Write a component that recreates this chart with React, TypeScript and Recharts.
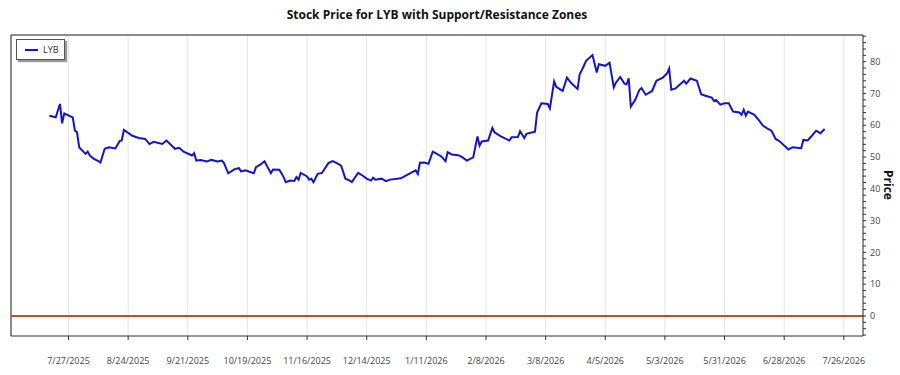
import { LineChart, Line, XAxis, YAxis, CartesianGrid, ReferenceLine } from 'recharts'

const dates = [
  '2025-07-18', '2025-07-21', '2025-07-23', '2025-07-24', '2025-07-25', '2025-07-29', '2025-07-30', '2025-07-31',
  '2025-08-01', '2025-08-04', '2025-08-05', '2025-08-06', '2025-08-07', '2025-08-08', '2025-08-10', '2025-08-11',
  '2025-08-13', '2025-08-15', '2025-08-18', '2025-08-20', '2025-08-21', '2025-08-22', '2025-08-26', '2025-08-29',
  '2025-09-01', '2025-09-03', '2025-09-05', '2025-09-09', '2025-09-11', '2025-09-15', '2025-09-17', '2025-09-19',
  '2025-09-23', '2025-09-24', '2025-09-25', '2025-09-27', '2025-09-30', '2025-10-02', '2025-10-05', '2025-10-07',
  '2025-10-08', '2025-10-10', '2025-10-13', '2025-10-15', '2025-10-16', '2025-10-18', '2025-10-22', '2025-10-23',
  '2025-10-25', '2025-10-27', '2025-10-30', '2025-10-31', '2025-11-03', '2025-11-05', '2025-11-06', '2025-11-08',
  '2025-11-10', '2025-11-11', '2025-11-12', '2025-11-13', '2025-11-16', '2025-11-17', '2025-11-18', '2025-11-19',
  '2025-11-21', '2025-11-23', '2025-11-26', '2025-11-28', '2025-11-30', '2025-12-02', '2025-12-04', '2025-12-06',
  '2025-12-07', '2025-12-10', '2025-12-12', '2025-12-14', '2025-12-16', '2025-12-17', '2025-12-18', '2025-12-21',
  '2025-12-23', '2025-12-25', '2025-12-30', '2026-01-02', '2026-01-06', '2026-01-07', '2026-01-08', '2026-01-10',
  '2026-01-12', '2026-01-14', '2026-01-16', '2026-01-18', '2026-01-20', '2026-01-21', '2026-01-23', '2026-01-26',
  '2026-01-28', '2026-01-30', '2026-02-02', '2026-02-04', '2026-02-05', '2026-02-06', '2026-02-09', '2026-02-11',
  '2026-02-12', '2026-02-15', '2026-02-19', '2026-02-20', '2026-02-23', '2026-02-24', '2026-02-26', '2026-02-27',
  '2026-03-03', '2026-03-04', '2026-03-06', '2026-03-09', '2026-03-10', '2026-03-12', '2026-03-13', '2026-03-16',
  '2026-03-18', '2026-03-20', '2026-03-23', '2026-03-24', '2026-03-25', '2026-03-27', '2026-03-30', '2026-04-01',
  '2026-04-02', '2026-04-05', '2026-04-07', '2026-04-09', '2026-04-10', '2026-04-12', '2026-04-14', '2026-04-15',
  '2026-04-16', '2026-04-17', '2026-04-19', '2026-04-21', '2026-04-22', '2026-04-24', '2026-04-27', '2026-04-29',
  '2026-05-02', '2026-05-04', '2026-05-05', '2026-05-06', '2026-05-08', '2026-05-12', '2026-05-13', '2026-05-15',
  '2026-05-18', '2026-05-20', '2026-05-22', '2026-05-25', '2026-05-26', '2026-05-27', '2026-05-29', '2026-05-31',
  '2026-06-02', '2026-06-04', '2026-06-07', '2026-06-08', '2026-06-09', '2026-06-10', '2026-06-11', '2026-06-14',
  '2026-06-16', '2026-06-18', '2026-06-20', '2026-06-22', '2026-06-24', '2026-06-26', '2026-06-28', '2026-06-30',
  '2026-07-02', '2026-07-06', '2026-07-07', '2026-07-09', '2026-07-11', '2026-07-13', '2026-07-15', '2026-07-17',
]

const prices = [
  63.0, 62.5, 66.7, 60.6, 63.7, 62.5, 58.3, 57.8,
  53.1, 51.0, 51.7, 50.5, 49.9, 49.4, 48.7, 48.3,
  52.6, 53.1, 52.7, 55.0, 55.2, 58.5, 56.7, 56.0,
  55.7, 54.1, 54.8, 54.1, 55.2, 52.6, 52.9, 51.7,
  50.5, 51.2, 48.9, 49.1, 48.6, 49.1, 48.6, 48.9,
  48.1, 44.9, 46.2, 46.5, 45.5, 45.8, 44.9, 46.8,
  47.6, 48.7, 44.9, 46.1, 46.0, 43.7, 42.1, 42.6,
  42.5, 43.7, 42.9, 45.0, 43.9, 42.9, 43.2, 42.1,
  44.7, 45.0, 48.1, 48.7, 48.1, 47.3, 43.2, 42.6,
  42.1, 45.0, 44.2, 43.2, 42.6, 43.5, 42.9, 43.2,
  42.4, 42.9, 43.3, 44.4, 45.8, 44.7, 48.2, 48.3,
  47.9, 51.7, 51.0, 50.2, 48.7, 51.5, 50.8, 50.6,
  49.9, 48.9, 49.9, 56.5, 53.6, 54.9, 55.2, 59.2,
  57.8, 56.5, 55.2, 56.2, 56.3, 58.1, 56.0, 57.3,
  58.0, 64.0, 66.9, 66.7, 65.3, 73.8, 72.1, 70.8,
  75.0, 73.3, 71.4, 76.1, 77.3, 80.3, 82.1, 76.6,
  79.2, 78.7, 79.7, 71.9, 73.4, 75.2, 73.1, 72.9,
  74.8, 65.9, 67.9, 71.1, 71.7, 69.6, 70.8, 74.0,
  75.0, 76.3, 77.8, 71.2, 71.6, 74.0, 73.1, 74.7,
  74.0, 69.8, 69.3, 68.7, 67.7, 68.0, 66.5, 66.9,
  66.9, 64.3, 64.0, 63.3, 64.9, 63.0, 64.3, 63.3,
  61.7, 59.9, 59.0, 58.3, 55.7, 54.9, 53.6, 52.4,
  53.1, 52.8, 55.4, 55.2, 56.7, 58.3, 57.5, 58.8,
]

const xTicks = [
  '2025-07-27', '2025-08-24', '2025-09-21', '2025-10-19', '2025-11-16', '2025-12-14', '2026-01-11',
  '2026-02-08', '2026-03-08', '2026-04-05', '2026-05-03', '2026-05-31', '2026-06-28', '2026-07-26',
]

const yTicks = [
  -6, -4, -2, 0, 2, 4, 6, 8, 10, 12, 14, 16, 18, 20, 22, 24, 26, 28, 30, 32, 34, 36, 38, 40, 42, 44,
  46, 48, 50, 52, 54, 56, 58, 60, 62, 64, 66, 68, 70, 72, 74, 76, 78, 80, 82, 84, 86, 88,
]

const X_MIN = Date.parse('2025-06-30')
const X_MAX = Date.parse('2026-08-04')
const Y_MIN = -6.3
const Y_MAX = 88.4

const FONT = '"Open Sans", "Noto Sans", sans-serif'

const data = dates.map((d, i) => ({ t: Date.parse(d), price: prices[i] }))

const fmtDate = (v: number) => {
  const d = new Date(v)
  return `${d.getUTCMonth() + 1}/${d.getUTCDate()}/${d.getUTCFullYear()}`
}

// only every 5th minor tick gets a label
const YTick = (props: any) => {
  const { x, y, payload } = props
  if (payload.value % 10 !== 0) return <g />
  return (
    <text x={x} y={y} dy="0.355em" textAnchor="start" fontSize={9} fill="#444" fontFamily={FONT}>
      {payload.value}
    </text>
  )
}

export default function App() {
  return (
    <div style={{ position: 'absolute', left: 0, top: 0, width: 900, height: 375, background: '#fff', fontFamily: FONT }}>
      <div style={{ position: 'absolute', left: 0, width: 874, top: 6, textAlign: 'center', fontSize: 12, fontWeight: 700, color: '#111' }}>
        Stock Price for LYB with Support/Resistance Zones
      </div>
      <LineChart width={900} height={375} data={data} margin={{ top: 35, right: 0, bottom: 0, left: 11 }}>
        <CartesianGrid horizontal={false} stroke="#e4e4e4" />
        <XAxis
          dataKey="t"
          type="number"
          domain={[X_MIN, X_MAX]}
          allowDataOverflow
          ticks={xTicks.map(d => Date.parse(d))}
          interval={0}
          tickFormatter={fmtDate}
          height={39}
          tickSize={4}
          tickMargin={18}
          stroke="#333"
          tick={{ fontSize: 9, fill: '#444', fontFamily: FONT }}
        />
        <YAxis
          orientation="right"
          type="number"
          domain={[Y_MIN, Y_MAX]}
          allowDataOverflow
          ticks={yTicks}
          interval={0}
          width={37}
          tickSize={3}
          tickMargin={4}
          stroke="#333"
          tick={<YTick />}
        />
        <ReferenceLine y={Y_MAX} stroke="#666" strokeWidth={1.5} />
        <ReferenceLine x={X_MIN} stroke="#444" strokeWidth={1.2} />
        <ReferenceLine y={0} stroke="#c0502b" strokeWidth={2} />
        <Line
          type="linear"
          dataKey="price"
          stroke="#1414cc"
          strokeWidth={2}
          dot={false}
          isAnimationActive={false}
        />
      </LineChart>
      <div
        style={{
          position: 'absolute', left: 16, top: 39, width: 47, height: 19, border: '1px solid #555',
          background: '#fff', boxShadow: '2px 2px 1px #999', display: 'flex', alignItems: 'center',
        }}
      >
        <div style={{ width: 13, height: 2, background: '#1414cc', marginLeft: 8 }} />
        <span style={{ fontSize: 9, color: '#333', marginLeft: 5 }}>LYB</span>
      </div>
      <div
        style={{
          position: 'absolute', left: 888, top: 185, transform: 'translate(-50%, -50%) rotate(90deg)',
          fontSize: 12, fontWeight: 700, color: '#111', whiteSpace: 'nowrap',
        }}
      >
        Price
      </div>
    </div>
  )
}
